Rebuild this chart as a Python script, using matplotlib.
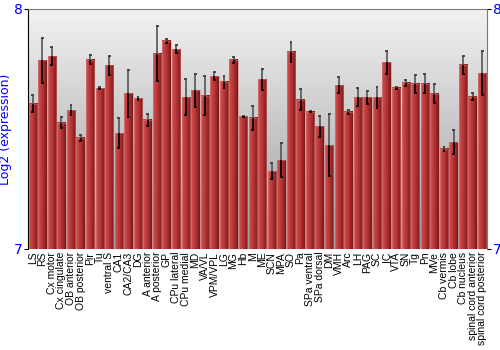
import numpy as np
import matplotlib
matplotlib.use("Agg")
from matplotlib import pyplot as plt
from matplotlib.colors import LinearSegmentedColormap

regions = ["LS", "RS", "Cx motor", "Cx cingulate", "OB anterior", "OB posterior",
           "Pir", "Tu", "ventral S", "CA1", "CA2/CA3", "DG", "A anterior",
           "A posterior", "GP", "CPu lateral", "CPu medial", "MD", "VA/VL",
           "VPM/VPL", "LG", "MG", "Hb", "M", "ME", "SCN", "MPA", "SO", "Pa",
           "SPa ventral", "SPa dorsal", "DM", "VMH", "Arc", "LH", "PAG", "SC",
           "IC", "VTA", "SN", "Tg", "Pn", "MVe", "Cb vermis", "Cb lobe",
           "Cb nucleus", "spinal cord anterior", "spinal cord posterior"]
values = [7.605, 7.786, 7.804, 7.526, 7.578, 7.463, 7.788, 7.670, 7.765, 7.483,
          7.649, 7.628, 7.538, 7.814, 7.867, 7.833, 7.633, 7.661, 7.638, 7.720,
          7.696, 7.789, 7.553, 7.546, 7.707, 7.324, 7.370, 7.822, 7.622, 7.571,
          7.511, 7.433, 7.683, 7.571, 7.632, 7.632, 7.632, 7.778, 7.672, 7.693,
          7.689, 7.688, 7.647, 7.417, 7.445, 7.767, 7.635, 7.733]
errors = [0.036, 0.093, 0.038, 0.023, 0.020, 0.011, 0.019, 0.003, 0.038, 0.061,
          0.097, 0.007, 0.025, 0.115, 0.008, 0.017, 0.076, 0.069, 0.081, 0.017,
          0.026, 0.012, 0.003, 0.051, 0.044, 0.034, 0.072, 0.042, 0.044, 0.002,
          0.043, 0.128, 0.035, 0.008, 0.038, 0.026, 0.043, 0.049, 0.005, 0.013,
          0.038, 0.040, 0.040, 0.010, 0.051, 0.036, 0.013, 0.090]

ymin, ymax = 7, 8
n = len(regions)
x = np.arange(n)
w = 0.88

fig = plt.figure(figsize=(5, 3.5), dpi=100)
ax = fig.add_axes([28 / 500, 1 - 249 / 350, 459 / 500, 240 / 350])
ax.set_xlim(-0.5, n - 0.5)
ax.set_ylim(ymin, ymax)

# background gradient, light at top, darker toward the bottom
bg = np.linspace(0, 1, 256).reshape(-1, 1)
bg_cmap = LinearSegmentedColormap.from_list("bg", ["#f2f2f2", "#9c9c9c"])
ax.imshow(bg, cmap=bg_cmap, aspect="auto", extent=(-0.5, n - 0.5, ymin, ymax),
          zorder=0, origin="upper")

# bars with horizontal red gradient
bar_cmap = LinearSegmentedColormap.from_list(
    "bar", [(0, "#c05858"), (0.15, "#cc4646"), (0.45, "#b83838"),
            (0.85, "#922020"), (1, "#701414")])
grad = np.linspace(0, 1, 64).reshape(1, -1)
for xi, v in zip(x, values):
    ax.imshow(grad, cmap=bar_cmap, aspect="auto",
              extent=(xi - w / 2, xi + w / 2, ymin, v), zorder=2)
    ax.add_patch(plt.Rectangle((xi - w / 2, ymin), w, v - ymin, fill=False,
                               edgecolor="#d98080", lw=0.6, alpha=0.6, zorder=3))

# error bars: part above the bar grey, part inside black
vals = np.array(values)
errs = np.array(errors)
ax.vlines(x, vals, vals + errs, color="#555555", lw=1.2, zorder=4)
ax.vlines(x, vals - errs, vals, color="black", lw=1.2, zorder=4)
ax.hlines(vals + errs, x - 0.15, x + 0.15, color="#333333", lw=1.2, zorder=4)
ax.hlines(vals - errs, x - 0.15, x + 0.15, color="black", lw=1.2, zorder=4)

ax.set_xticks(x)
ax.set_xticklabels(regions, rotation=90, fontsize=7.5, family="Liberation Sans")
ax.tick_params(axis="x", length=0, pad=2)
ax.set_yticks([7, 8])
ax.tick_params(axis="y", colors="black", labelcolor="blue", labelsize=10,
               length=3, right=True, labelright=True, pad=1)
ax.set_ylabel("Log2 (expression)", color="blue", fontsize=9, labelpad=1)

ax.spines["left"].set_color("black")
ax.spines["top"].set_color("#777777")
ax.spines["right"].set_color("#777777")
ax.spines["bottom"].set_visible(False)

fig.savefig("out.png", dpi=100)
